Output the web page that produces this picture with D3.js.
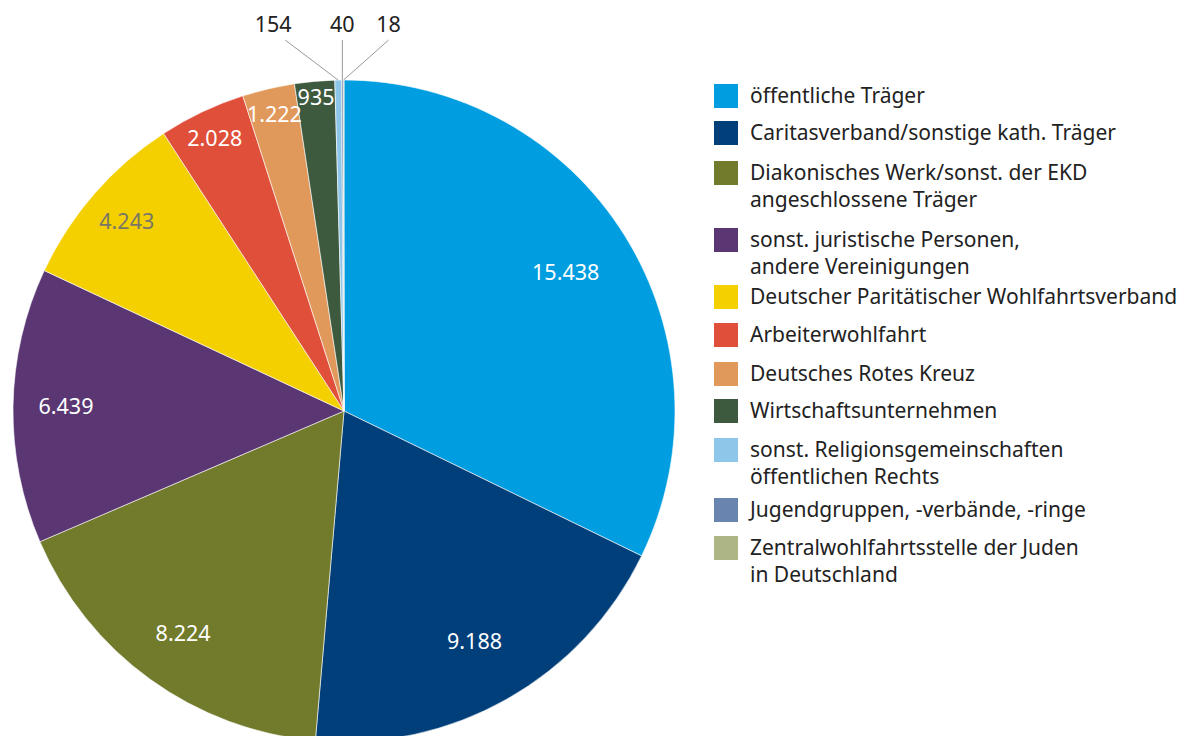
<!DOCTYPE html>
<html>
<head>
<meta charset="utf-8">
<script src="https://cdn.jsdelivr.net/npm/d3@7"></script>
<style>
  body { margin: 0; background: #ffffff; }
  svg text { font-family: "Noto Sans", "Open Sans", sans-serif; }
</style>
</head>
<body>
<div id="chart"></div>
<script>
// Data
var categories = [
    'öffentliche Träger',
    'Caritasverband/sonstige kath. Träger',
    'Diakonisches Werk/sonst. der EKD|angeschlossene Träger',
    'sonst. juristische Personen,|andere Vereinigungen',
    'Deutscher Paritätischer Wohlfahrtsverband',
    'Arbeiterwohlfahrt',
    'Deutsches Rotes Kreuz',
    'Wirtschaftsunternehmen',
    'sonst. Religionsgemeinschaften|öffentlichen Rechts',
    'Jugendgruppen, -verbände, -ringe',
    'Zentralwohlfahrtsstelle der Juden|in Deutschland'
];
var values = [15438, 9188, 8224, 6439, 4243, 2028, 1222, 935, 154, 40, 18];
var value_labels = ['15.438', '9.188', '8.224', '6.439', '4.243', '2.028', '1.222', '935', '154', '40', '18'];

var colors = ['#009ee0', '#003f7a', '#727a2b', '#5a3773', '#f5d000', '#e04f3a',
    '#e0995a', '#3e5a3e', '#8ec6ea', '#6a84b0', '#adb585'];

// Layout
var chart_width = 1194;
var chart_height = 736;
var cx = 344, cy = 411, radius = 331;
// radial position of the inside labels (fraction of radius)
var label_r = [0.79, 0.8, 0.83, 0.84, 0.87, 0.91, 0.92, 0.95];
// legend rows (first line of each entry)
var legend_y = [96, 133, 173, 240, 297, 335, 374, 411, 450, 510, 548];

var svg = d3.select('#chart')
    .append('svg')
    .attr('width', chart_width)
    .attr('height', chart_height);

var pie = d3.pie().sort(null).value(function(d) { return d; });
var arcs = pie(values);

var arc = d3.arc().innerRadius(0).outerRadius(radius);

var g = svg.append('g').attr('transform', 'translate(' + cx + ',' + cy + ')');

g.selectAll('path')
    .data(arcs)
    .enter()
    .append('path')
    .attr('d', arc)
    .attr('fill', function(d, i) { return colors[i]; })
    .attr('stroke', '#ffffff')
    .attr('stroke-width', 0.6);

// Labels inside slices
g.selectAll('text.inner')
    .data(arcs.slice(0, 8))
    .enter()
    .append('text')
    .attr('class', 'inner')
    .attr('x', function(d, i) {
        var a = (d.startAngle + d.endAngle) / 2;
        return Math.sin(a) * radius * label_r[i];
    })
    .attr('y', function(d, i) {
        var a = (d.startAngle + d.endAngle) / 2;
        return -Math.cos(a) * radius * label_r[i];
    })
    .attr('dy', '0.35em')
    .attr('text-anchor', 'middle')
    .attr('font-size', 21.5)
    .attr('fill', function(d, i) { return i == 4 ? '#7a7766' : '#ffffff'; })
    .text(function(d, i) { return value_labels[i]; });

// Labels for small slices, outside with leader lines
var small_dx = [-53, 0, 45];
var small = arcs.slice(8);
small.forEach(function(d, j) {
    var a = (d.startAngle + d.endAngle) / 2;
    var px = Math.sin(a) * radius;
    var py = -Math.cos(a) * radius;
    var lx = px + small_dx[j];
    g.append('line')
        .attr('x1', px).attr('y1', py)
        .attr('x2', lx).attr('y2', -cy + 40)
        .attr('stroke', '#9a9a9a')
        .attr('stroke-width', 1);
    g.append('text')
        .attr('x', lx - (j == 0 ? 12 : 0))
        .attr('y', -cy + 24)
        .attr('dy', '0.35em')
        .attr('text-anchor', 'middle')
        .attr('font-size', 21.5)
        .attr('fill', '#222222')
        .text(value_labels[8 + j]);
});

// Legend
var legend = svg.append('g').attr('transform', 'translate(714, 0)');
categories.forEach(function(c, i) {
    var lines = c.split('|');
    var y = legend_y[i];
    legend.append('rect')
        .attr('x', 0)
        .attr('y', y - 12)
        .attr('width', 24)
        .attr('height', 24)
        .attr('fill', colors[i]);
    var t = legend.append('text')
        .attr('x', 36)
        .attr('y', y)
        .attr('font-size', 21)
        .attr('fill', '#222222');
    lines.forEach(function(l, k) {
        t.append('tspan')
            .attr('x', 36)
            .attr('y', y + k * 27)
            .attr('dy', '0.35em')
            .text(l);
    });
});
</script>
</body>
</html>
